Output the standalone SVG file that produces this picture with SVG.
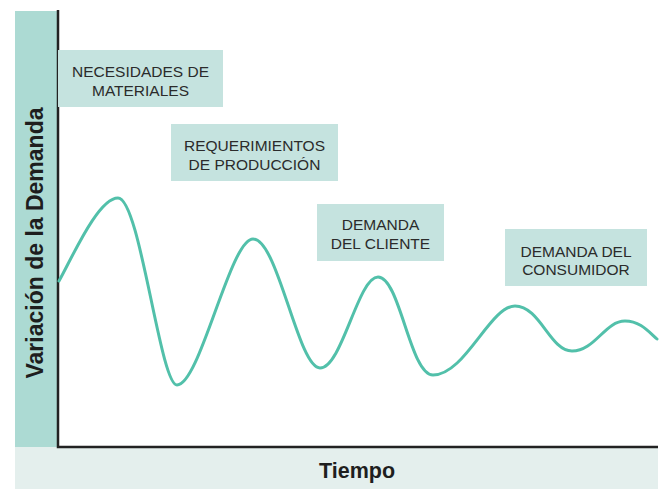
<svg xmlns="http://www.w3.org/2000/svg" width="662" height="489" viewBox="0 0 662 489">
<style>
.lbl{fill:#c5e3df}
.t{font-family:"Liberation Sans",Arial,sans-serif;font-size:15.5px;fill:#2b2b2b;text-anchor:middle}
.b{font-family:"Liberation Sans",Arial,sans-serif;font-weight:bold;fill:#1e1e1e;text-anchor:middle}
.axis{stroke:#222;stroke-width:2.5;fill:none}
.curve{stroke:#52c0aa;stroke-width:3;fill:none;stroke-linecap:round}
</style>
<rect width="662" height="489" fill="#fff"/>
<g id="bands">
<rect x="15" y="11" width="43" height="436" fill="#acdad3"/>
<rect x="15" y="447" width="643" height="42" fill="#e4efed"/>
</g>
<g id="axes">
<path class="axis" d="M58,10 V447 H658"/>
</g>
<g id="axis-labels">
<text class="b" font-size="23" transform="translate(43,243) rotate(-90)">Variación de la Demanda</text>
<text class="b" font-size="21.5" x="357" y="478">Tiempo</text>
</g>
<g id="curve">
<path class="curve" d="M59,281 C72,258 98,198 118,198 C140,198 160,385 177,385 C200,385 230,239 253,239 C278,239 298,368 320,368 C342,368 358,277 378,277 C400,277 410,375 433,375 C465,375 490,306 515,306 C540,306 550,351 572,351 C595,351 605,321 625,321 C640,321 648,331 657,339"/>
</g>
<g id="node-materiales">
<rect class="lbl" x="58" y="50" width="165" height="57"/>
<text class="t" x="140.5" y="77">NECESIDADES DE</text>
<text class="t" x="140.5" y="96">MATERIALES</text>
</g>
<g id="node-produccion">
<rect class="lbl" x="171" y="124" width="167" height="57"/>
<text class="t" x="254.5" y="151">REQUERIMIENTOS</text>
<text class="t" x="254.5" y="170">DE PRODUCCIÓN</text>
</g>
<g id="node-cliente">
<rect class="lbl" x="317" y="204" width="127" height="57"/>
<text class="t" x="380.5" y="230">DEMANDA</text>
<text class="t" x="380.5" y="249">DEL CLIENTE</text>
</g>
<g id="node-consumidor">
<rect class="lbl" x="505" y="229" width="142" height="57"/>
<text class="t" x="576" y="257">DEMANDA DEL</text>
<text class="t" x="576" y="275">CONSUMIDOR</text>
</g>
</svg>
